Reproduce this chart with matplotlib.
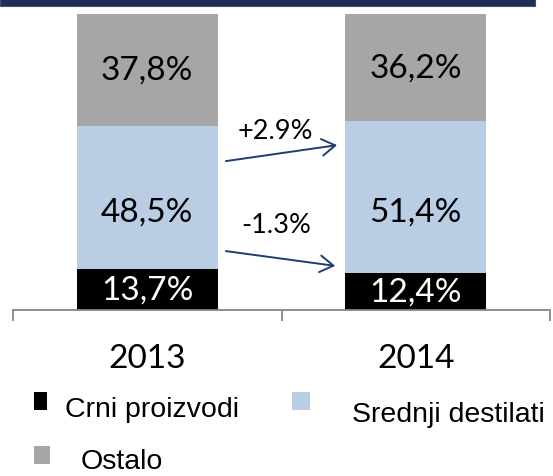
import matplotlib
matplotlib.use("Agg")
import matplotlib.pyplot as plt
from matplotlib.patches import Rectangle

# data
years = ["2013", "2014"]
crni = [13.7, 12.4]
srednji = [48.5, 51.4]
ostalo = [37.8, 36.2]
series_names = ["Crni proizvodi", "Srednji destilati", "Ostalo"]
change_labels = ["+2.9%", "-1.3%"]

colors = ["#000000", "#B9CDE5", "#A6A6A6"]
label_colors = ["white", "black", "black"]
W, H = 553, 477

fig = plt.figure(figsize=(W / 100, H / 100), dpi=100)

# dark strip along the top edge
fig.patches.append(Rectangle((0, 1 - 7 / H), 535 / W, 7 / H, transform=fig.transFigure,
                             facecolor="#1F2D52", edgecolor="#44516E", lw=0.8))

ax = fig.add_axes([13 / W, 166 / H, 537 / W, 296 / H])
x = list(range(len(years)))
bottom = [0.0] * len(years)
for vals, col, lcol in zip([crni, srednji, ostalo], colors, label_colors):
    ax.bar(x, vals, width=0.525, bottom=bottom, color=col, edgecolor="none")
    for xi, v, b in zip(x, vals, bottom):
        # middle labels sit a bit lower in the original
        off = -10 if col == "#B9CDE5" else 0
        ax.annotate(f"{v:.1f}%".replace(".", ","), (xi, b + v / 2), xytext=(0, off),
                    textcoords="offset points", ha="center", va="center",
                    fontsize=24, family="Lato", color=lcol)
    bottom = [b + v for b, v in zip(bottom, vals)]

ax.set_xlim(-0.5, 1.5)
ax.set_ylim(0, 100)
for s in ["left", "right", "top"]:
    ax.spines[s].set_visible(False)
ax.spines["bottom"].set_color("#868686")
ax.spines["bottom"].set_linewidth(1.3)
ax.set_yticks([])
ax.set_xticks([-0.5, 0.5, 1.5])
ax.set_xticklabels([])
ax.tick_params(axis="x", which="major", length=8, width=1.3, color="#868686")
ax.set_xticks(x, minor=True)
ax.set_xticklabels(years, minor=True, fontsize=24, family="Lato")
ax.tick_params(axis="x", which="minor", length=0, pad=24)

# change arrows between the bars
arrow_kw = dict(arrowstyle="->,head_length=0.8,head_width=0.5", color="#1F3C74",
                lw=1.4, mutation_scale=12, shrinkA=0, shrinkB=0)
ax.annotate("", xy=(0.707, 55.7), xytext=(0.293, 50.3), arrowprops=arrow_kw)
ax.annotate("", xy=(0.70, 14.9), xytext=(0.293, 19.9), arrowprops=arrow_kw)
ax.text(0.476, 60.5, change_labels[0], ha="center", va="center", fontsize=19.5, family="Lato")
ax.text(0.48, 29, change_labels[1], ha="center", va="center", fontsize=19.5, family="Lato")

# legend laid out by hand, as in the original
legend_boxes = [(34, 393, 13, 18), (292, 393, 18, 18), (34, 447, 16, 18)]
legend_text = [(65, 417), (352, 422), (81, 469)]
for name, col, (bx, by, bw, bh), (tx, ty) in zip(series_names, colors, legend_boxes, legend_text):
    fig.patches.append(Rectangle((bx / W, 1 - (by + bh) / H), bw / W, bh / H,
                                 transform=fig.transFigure, facecolor=col, edgecolor="none"))
    fig.text(tx / W, 1 - ty / H, name, ha="left", va="baseline", fontsize=20.5,
             family="Liberation Sans")

fig.savefig("out.png", dpi=100)
